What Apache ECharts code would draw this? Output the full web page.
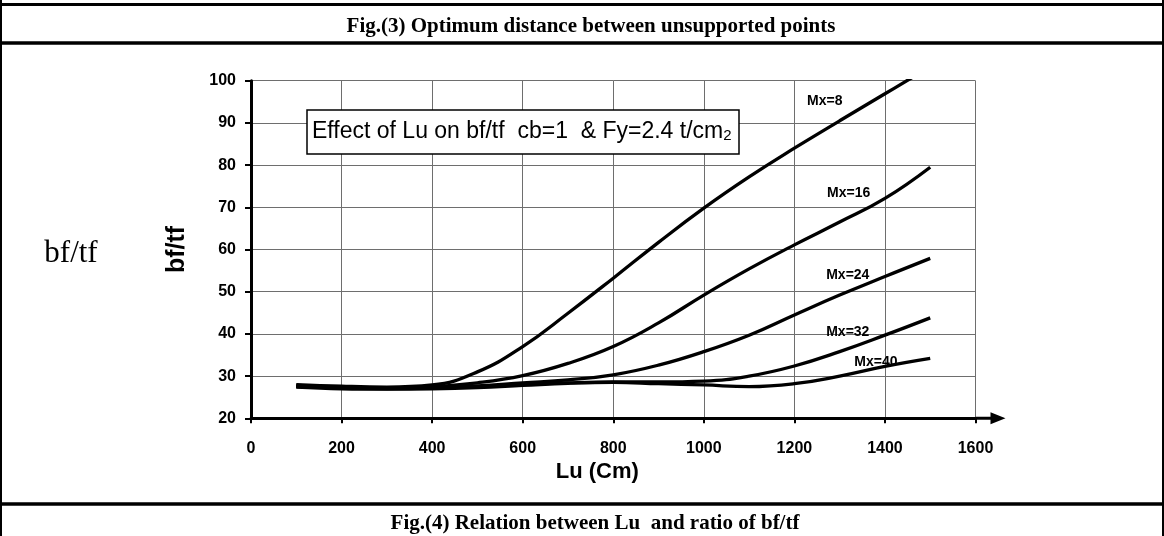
<!DOCTYPE html>
<html>
<head>
<meta charset="utf-8">
<script src="https://cdn.jsdelivr.net/npm/echarts@6/dist/echarts.min.js"></script>
<style>
  html, body { margin: 0; padding: 0; background: #fff; }
  #chart { width: 1164px; height: 536px; }
</style>
</head>
<body>
<div id="chart"></div>
<script>
// Unbraced length Lu (cm) at which each curve is sampled
const luValues = [100, 200, 300, 400, 500, 600, 700, 800, 900, 1000, 1100, 1200, 1300, 1400, 1500];

// bf/tf ratio for each moment Mx
const mx8  = [28.0, 27.6, 27.4, 27.9, 31.0, 37.0, 44.9, 53.2, 61.7, 69.8, 77.2, 84.0, 90.5, 96.9, 103.3];
const mx16 = [27.8, 27.4, 27.2, 27.5, 28.4, 30.1, 33.0, 37.0, 42.6, 49.2, 55.4, 61.1, 66.5, 72.1, 79.5];
const mx24 = [27.6, 27.3, 27.1, 27.3, 27.7, 28.4, 29.1, 30.3, 32.6, 35.8, 39.7, 44.5, 49.2, 53.6, 57.9];
const mx32 = [27.5, 27.2, 27.0, 27.2, 27.5, 28.0, 28.4, 28.6, 28.6, 28.8, 30.0, 32.4, 35.8, 39.7, 43.8];
const mx40 = [27.4, 27.0, 26.9, 27.0, 27.3, 27.8, 28.3, 28.5, 28.2, 27.9, 27.5, 28.2, 30.0, 32.3, 34.2];

const seriesNames = ['Mx=8', 'Mx=16', 'Mx=24', 'Mx=32', 'Mx=40'];
const seriesValues = [mx8, mx16, mx24, mx32, mx40];
// where each curve's name sits, in axis units [Lu, bf/tf]
const labelAnchors = [[1267, 95.2], [1320, 73.4], [1318, 54.0], [1318, 40.5], [1380, 33.4]];

const xTicks = { min: 0, max: 1600, interval: 200 };
const yTicks = { min: 20, max: 100, interval: 10 };

const sans = '"Liberation Sans", Arial, sans-serif';
const serif = '"Liberation Serif", "Times New Roman", serif';

const chart = echarts.init(document.getElementById('chart'), null, { renderer: 'canvas' });

const series = seriesNames.map((name, i) => ({
  name: name,
  type: 'line',
  smooth: 0.45,
  symbol: 'none',
  clip: true,
  data: luValues.map((x, k) => [x, seriesValues[i][k]]),
  lineStyle: { color: '#000', width: 3.3 },
  markPoint: {
    symbol: 'circle',
    symbolSize: 0,
    silent: true,
    data: [{ coord: labelAnchors[i], value: name }],
    label: {
      show: true,
      position: 'inside',
      formatter: name,
      color: '#000',
      fontFamily: sans,
      fontWeight: 'bold',
      fontSize: 14
    }
  }
}));

chart.setOption({
  animation: false,
  backgroundColor: '#fff',
  grid: { left: 251, right: 188.5, top: 80.7, bottom: 117.7, containLabel: false },
  xAxis: {
    type: 'value',
    min: xTicks.min, max: xTicks.max, interval: xTicks.interval,
    name: 'Lu (Cm)',
    nameLocation: 'middle',
    nameGap: 40,
    nameTextStyle: { fontFamily: sans, fontWeight: 'bold', fontSize: 22, color: '#000', padding: [0, 32, 0, 0] },
    axisLine: {
      lineStyle: { color: '#000', width: 3 },
      symbol: ['none', 'path://M6 0 L12 15 L7.5 15 L7.5 30 L4.5 30 L4.5 15 L0 15 Z'],
      symbolSize: [12, 30],
      symbolOffset: [0, 15]
    },
    axisTick: { show: true, inside: false, length: 5, lineStyle: { color: '#000', width: 2 } },
    axisLabel: { fontFamily: sans, fontWeight: 'bold', fontSize: 16, color: '#000', margin: 22, formatter: v => String(v) },
    splitLine: { show: true, lineStyle: { color: '#6e6e6e', width: 1 } }
  },
  yAxis: {
    type: 'value',
    min: yTicks.min, max: yTicks.max, interval: yTicks.interval,
    name: 'bf/tf',
    nameLocation: 'middle',
    nameGap: 61,
    nameRotate: 90,
    nameTextStyle: { fontFamily: sans, fontWeight: 'bold', fontSize: 25, color: '#000' },
    axisLine: { show: true, lineStyle: { color: '#000', width: 3 } },
    axisTick: { show: true, inside: false, length: 6, lineStyle: { color: '#000', width: 2 } },
    axisLabel: { fontFamily: sans, fontWeight: 'bold', fontSize: 16, color: '#000', margin: 15, formatter: v => String(v) },
    splitLine: { show: true, lineStyle: { color: '#6e6e6e', width: 1 } }
  },
  series: series,
  graphic: [
    // page frame
    { type: 'line', shape: { x1: 0, y1: 4.5, x2: 1164, y2: 4.5 }, style: { stroke: '#000', lineWidth: 3 } },
    { type: 'line', shape: { x1: 0, y1: 43, x2: 1164, y2: 43 }, style: { stroke: '#000', lineWidth: 3.5 } },
    { type: 'line', shape: { x1: 0, y1: 504, x2: 1164, y2: 504 }, style: { stroke: '#000', lineWidth: 3.5 } },
    { type: 'line', shape: { x1: 1, y1: 0, x2: 1, y2: 536 }, style: { stroke: '#000', lineWidth: 2 } },
    { type: 'line', shape: { x1: 1163, y1: 0, x2: 1163, y2: 536 }, style: { stroke: '#000', lineWidth: 2 } },
    // captions
    {
      type: 'text', x: 591, y: 27,
      style: { text: 'Fig.(3) Optimum distance between unsupported points',
        textAlign: 'center', textVerticalAlign: 'middle',
        font: 'bold 21px ' + serif, fill: '#000' }
    },
    {
      type: 'text', x: 595, y: 524,
      style: { text: 'Fig.(4) Relation between Lu  and ratio of bf/tf',
        textAlign: 'center', textVerticalAlign: 'middle',
        font: 'bold 21px ' + serif, fill: '#000' }
    },
    {
      type: 'text', x: 71, y: 254,
      style: { text: 'bf/tf', textAlign: 'center', textVerticalAlign: 'middle',
        font: '31px ' + serif, fill: '#000' }
    },
    // description box
    {
      type: 'rect', shape: { x: 307, y: 110, width: 432, height: 44 },
      style: { fill: '#fff', stroke: '#000', lineWidth: 1.5 }, z: 10
    },
    {
      type: 'text', x: 312, y: 132, z: 11,
      style: {
        text: '{m|Effect of Lu on bf/tf  cb=1  & Fy=2.4 t/cm}{s|2}',
        textVerticalAlign: 'middle',
        rich: {
          m: { fontFamily: sans, fontSize: 23, fill: '#000', color: '#000' },
          s: { fontFamily: sans, fontSize: 15, fill: '#000', color: '#000', verticalAlign: 'bottom', padding: [8, 0, 0, 0] }
        }
      }
    }
  ]
});
</script>
</body>
</html>
